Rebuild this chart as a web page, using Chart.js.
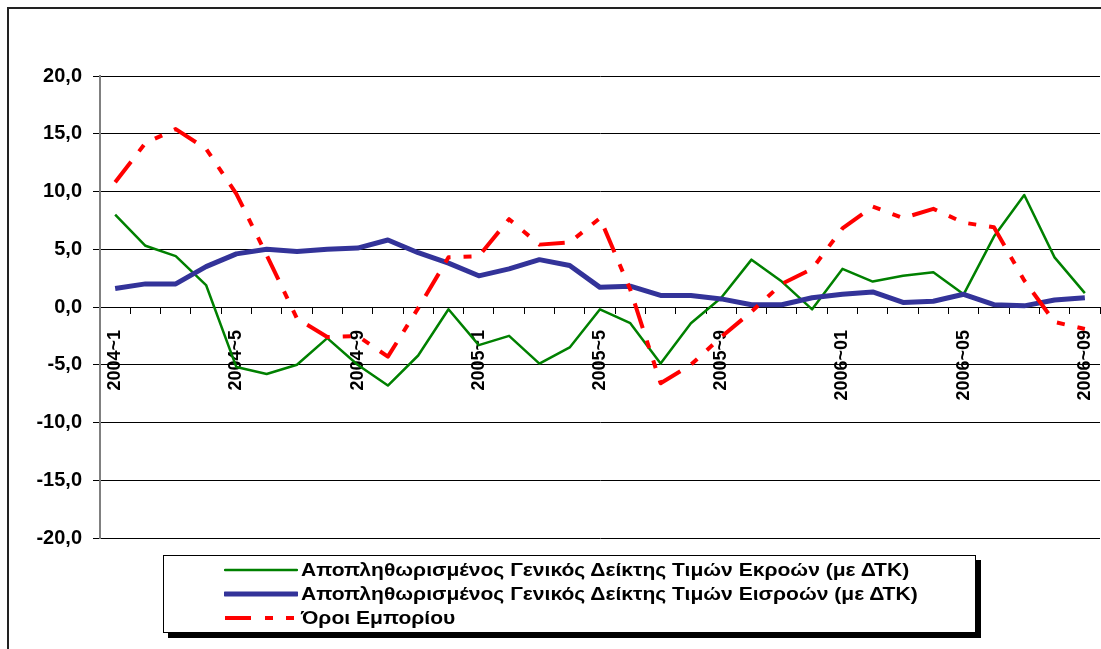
<!DOCTYPE html>
<html>
<head>
<meta charset="utf-8">
<script src="https://cdn.jsdelivr.net/npm/chart.js@4/dist/chart.umd.min.js"></script>
<style>
  html, body { margin: 0; padding: 0; background: #fff; }
  #wrap { position: relative; width: 1101px; height: 649px; overflow: hidden; }
  #frame { position: absolute; left: 7px; top: 7px; width: 1200px; height: 800px;
           border-left: 2px solid #222; border-top: 2px solid #222; }
  #chart { position: absolute; left: 0; top: 0; }
  #legend { position: absolute; left: 163px; top: 555px; width: 813px; height: 78px;
            border: 1px solid #000; box-shadow: 5px 5px 0 #000; background: #fff;
            font-family: "Liberation Sans", Arial, sans-serif; font-size: 18px; font-weight: 700;
            color: #000; padding-top: 2px; box-sizing: border-box; }
  .row { height: 24px; line-height: 24px; padding-left: 60px; white-space: nowrap; }
  .row svg { vertical-align: top; margin-right: 3px; }
  /* the original text is drawn a little wider than Arial */
  .row span { display: inline-block; transform: scaleX(1.17); transform-origin: 0 50%; }
</style>
</head>
<body>
<div id="wrap">
  <div id="frame"></div>
  <canvas id="chart" width="1101" height="649"></canvas>
  <div id="legend"></div>
</div>
<script>
const categories = [
  "2004~1", "2004~2", "2004~3", "2004~4", "2004~5", "2004~6", "2004~7", "2004~8",
  "2004~9", "2004~10", "2004~11", "2004~12",
  "2005~1", "2005~2", "2005~3", "2005~4", "2005~5", "2005~6", "2005~7", "2005~8",
  "2005~9", "2005~10", "2005~11", "2005~12",
  "2006~01", "2006~02", "2006~03", "2006~04", "2006~05", "2006~06", "2006~07", "2006~08",
  "2006~09"
];

const seriesNames = [
  "Αποπληθωρισμένος Γενικός Δείκτης Τιμών Εκροών (με ΔΤΚ)",
  "Αποπληθωρισμένος Γενικός Δείκτης Τιμών Εισροών (με ΔΤΚ)",
  "Όροι Εμπορίου"
];

const outputPrices = [8.0, 5.3, 4.4, 1.9, -5.2, -5.8, -5.0, -2.7, -5.0, -6.8, -4.2, -0.2,
  -3.3, -2.5, -4.9, -3.5, -0.2, -1.4, -4.9, -1.4, 0.8, 4.1, 2.2, -0.2,
  3.3, 2.2, 2.7, 3.0, 1.1, 6.1, 9.7, 4.3, 1.2];

const inputPrices = [1.6, 2.0, 2.0, 3.5, 4.6, 5.0, 4.8, 5.0, 5.1, 5.8, 4.7, 3.8,
  2.7, 3.3, 4.1, 3.6, 1.7, 1.8, 1.0, 1.0, 0.7, 0.2, 0.2, 0.8,
  1.1, 1.3, 0.4, 0.5, 1.1, 0.2, 0.1, 0.6, 0.8];

const termsOfTrade = [10.8, 14.2, 15.4, 13.7, 9.8, 4.5, -1.0, -2.6, -2.5, -4.3, -0.1, 4.3,
  4.4, 7.6, 5.4, 5.6, 7.7, 1.5, -6.6, -5.0, -2.6, -0.4, 2.0, 3.3,
  6.8, 8.7, 7.7, 8.5, 7.3, 6.9, 2.3, -1.3, -1.9];

const yTicks = { min: -20, max: 20, step: 5 };

const FONT = "'Liberation Sans', Arial, sans-serif";
const redDash = [26, 13, 8, 13, 8, 13];

const styles = [
  { color: "#008000", width: 2.5, dash: [], order: 2 },
  { color: "#333399", width: 5, dash: [], order: 1 },
  { color: "#ff0000", width: 4, dash: redDash, order: 0 }
];

const values = [outputPrices, inputPrices, termsOfTrade];

const datasets = values.map((data, i) => ({
  label: seriesNames[i],
  data: data,
  borderColor: styles[i].color,
  backgroundColor: styles[i].color,
  borderWidth: styles[i].width,
  borderDash: styles[i].dash,
  borderJoinStyle: "round",
  pointRadius: 0,
  tension: 0,
  fill: false,
  order: styles[i].order
}));

new Chart(document.getElementById("chart"), {
  type: "line",
  data: { labels: categories, datasets: datasets },
  options: {
    responsive: false,
    animation: false,
    devicePixelRatio: 1,
    layout: { padding: { left: 0, top: 76, right: 1, bottom: 111 } },
    plugins: { legend: { display: false }, tooltip: { enabled: false } },
    scales: {
      x: {
        type: "category",
        position: { y: 0 },
        offset: true,
        // rotated labels should not shrink the plot area
        afterFit: (scale) => { scale.paddingLeft = 0; scale.paddingRight = 0; },
        grid: { drawOnChartArea: false, offset: true, tickLength: 6, color: "#000", tickColor: "#000" },
        border: { color: "#000", width: 1 },
        ticks: {
          autoSkip: false,
          minRotation: 90,
          maxRotation: 90,
          padding: 17,
          color: "#000",
          font: { family: FONT, size: 18, weight: "bold" },
          callback: (v, i) => (i % 4 === 0 ? categories[i] : "")
        }
      },
      y: {
        min: yTicks.min,
        max: yTicks.max,
        afterFit: (scale) => { scale.width = 100; },
        grid: { color: "#000", tickLength: 7, tickColor: "#000" },
        border: { color: "#808080", width: 2 },
        ticks: {
          stepSize: yTicks.step,
          padding: 11,
          color: "#000",
          font: { family: FONT, size: 20, weight: "bold" },
          callback: (v) => v.toFixed(1).replace(".", ",")
        }
      }
    }
  }
});

// legend box below the plot
const legend = document.getElementById("legend");
seriesNames.forEach((name, i) => {
  const s = styles[i];
  const row = document.createElement("div");
  row.className = "row";
  row.innerHTML =
    `<svg width="74" height="24"><line x1="1" y1="12" x2="73" y2="12" stroke="${s.color}" ` +
    `stroke-width="${s.width}" stroke-dasharray="${s.dash.length ? "26 14 8 13 8 13" : "none"}" ` +
    `stroke-linecap="${s.dash.length ? "butt" : "round"}"/></svg>` +
    `<span>${name}</span>`;
  legend.appendChild(row);
});
</script>
</body>
</html>
